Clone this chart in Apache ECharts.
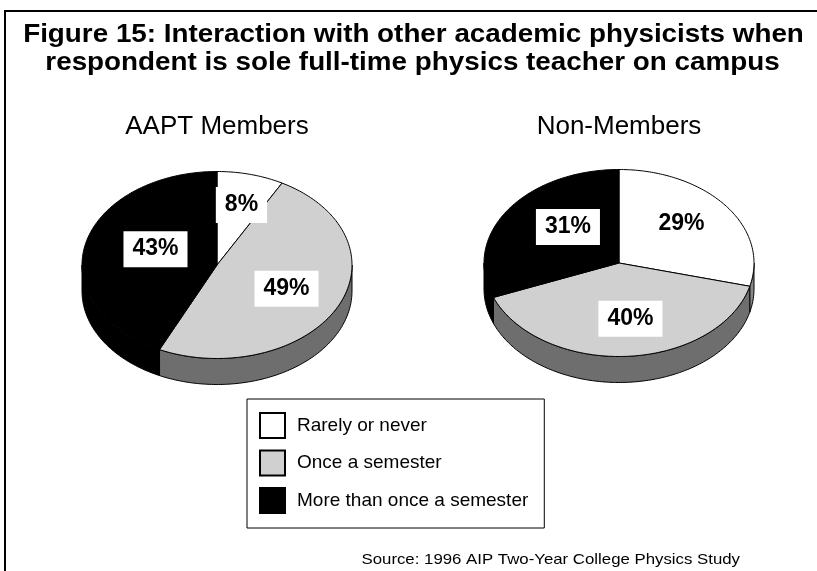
<!DOCTYPE html>
<html>
<head>
<meta charset="utf-8">
<title>Figure 15</title>
<script src="https://cdn.jsdelivr.net/npm/echarts@6/dist/echarts.min.js"></script>
<style>
    html, body { margin: 0; padding: 0; background: #fff; }
    #chart { width: 817px; height: 571px; }
</style>
</head>
<body>
<div id="chart"></div>
<script>
// categories and values
var categories = ['Rarely or never', 'Once a semester', 'More than once a semester'];
var groups = ['AAPT Members', 'Non-Members'];
var aaptValues = [8, 49, 43];
var nonMemberValues = [29, 40, 31];

// styles
var faceColors = ['#ffffff', '#d0d0d0', '#000000'];
var sideColors = ['#878787', '#6e6e6e', '#000000'];
var FONT = 'Liberation Sans, Arial, sans-serif';

// pie layout (px)
var pieCenters = [[217, 265], [619, 263]];
var rx = 135, ry = 93.5, depth = 26;

function groupValues(pie) {
    return pie === 0 ? aaptValues : nonMemberValues;
}

function pt(c, t, dy) {
    return [c[0] + rx * Math.sin(t), c[1] - ry * Math.cos(t) + dy];
}

function arc(c, from, to, dy) {
    var pts = [];
    var n = Math.max(2, Math.ceil(Math.abs(to - from) / (Math.PI / 180)));
    for (var i = 0; i <= n; i++) {
        pts.push(pt(c, from + (to - from) * i / n, dy));
    }
    return pts;
}

function renderSlice(params, api) {
    var pie = params.dataIndex;
    var cat = params.seriesIndex;
    var vals = groupValues(pie);
    var total = 0, start = 0;
    for (var i = 0; i < vals.length; i++) {
        total += vals[i];
        if (i < cat) start += vals[i];
    }
    var value = api.value(0);
    var a0 = start / total * Math.PI * 2;
    var a1 = (start + value) / total * Math.PI * 2;
    var c = pieCenters[pie];
    var children = [];

    // visible side wall: front half only
    var lo = Math.max(a0, Math.PI / 2);
    var hi = Math.min(a1, Math.PI * 3 / 2);
    if (lo < hi) {
        var side = arc(c, lo, hi, 0).concat(arc(c, hi, lo, depth));
        children.push({
            type: 'polygon',
            shape: {points: side},
            style: {fill: sideColors[cat], stroke: '#000', lineWidth: 1}
        });
    }

    // top face
    children.push({
        type: 'polygon',
        shape: {points: [c].concat(arc(c, a0, a1, 0))},
        style: {fill: api.visual('color'), stroke: '#000', lineWidth: 1}
    });

    // label box at the middle of the slice
    var mid = (a0 + a1) / 2;
    children.push({
        type: 'text',
        z2: 100,
        x: c[0] + 7 + rx * Math.sin(mid) * 0.52,
        y: c[1] - 3 - ry * Math.cos(mid) * 0.63,
        style: {
            text: value + '%',
            font: 'bold 23px ' + FONT,
            fill: '#000',
            align: 'center',
            verticalAlign: 'middle',
            backgroundColor: '#fff',
            padding: [7, 9, 6, 9]
        }
    });

    return {type: 'group', children: children};
}

var chart = echarts.init(document.getElementById('chart'));

var series = [];
for (var k = 0; k < categories.length; k++) {
    series.push({
        type: 'custom',
        name: categories[k],
        coordinateSystem: 'none',
        silent: true,
        itemStyle: {color: faceColors[k], borderColor: '#000', borderWidth: 1},
        renderItem: renderSlice,
        data: [aaptValues[k], nonMemberValues[k]]
    });
}

var option = {
    animation: false,
    backgroundColor: '#fff',
    legend: {
        orient: 'vertical',
        left: 247,
        top: 399,
        padding: [13, 16, 14, 12],
        itemWidth: 25,
        itemHeight: 25,
        itemGap: 10.5,
        icon: 'rect',
        selectedMode: false,
        borderColor: '#000',
        borderWidth: 1,
        backgroundColor: '#fff',
        textStyle: {
            fontFamily: FONT,
            fontSize: 19,
            color: '#000',
            padding: [0, 0, 0, 7]
        },
        data: categories
    },
    graphic: [
        {
            type: 'rect',
            silent: true,
            shape: {x: 5, y: 11, width: 900, height: 700},
            style: {fill: 'none', stroke: '#000', lineWidth: 2}
        },
        {
            type: 'text',
            silent: true,
            x: 413.5,
            y: 35,
            scaleX: 1.07,
            style: {
                text: 'Figure 15: Interaction with other academic physicists when',
                font: 'bold 26px ' + FONT,
                align: 'center',
                verticalAlign: 'middle',
                fill: '#000'
            }
        },
        {
            type: 'text',
            silent: true,
            x: 412.5,
            y: 63,
            scaleX: 1.07,
            style: {
                text: 'respondent is sole full-time physics teacher on campus',
                font: 'bold 26px ' + FONT,
                align: 'center',
                verticalAlign: 'middle',
                fill: '#000'
            }
        },
        {
            type: 'text',
            silent: true,
            x: pieCenters[0][0],
            y: 127,
            style: {text: groups[0], font: '26px ' + FONT, align: 'center', verticalAlign: 'middle', fill: '#000'}
        },
        {
            type: 'text',
            silent: true,
            x: pieCenters[1][0],
            y: 127,
            style: {text: groups[1], font: '26px ' + FONT, align: 'center', verticalAlign: 'middle', fill: '#000'}
        },
        {
            type: 'text',
            silent: true,
            x: 740,
            y: 560,
            scaleX: 1.12,
            style: {
                text: 'Source: 1996 AIP Two-Year College Physics Study',
                font: '15px ' + FONT,
                align: 'right',
                verticalAlign: 'middle',
                fill: '#000'
            }
        }
    ],
    series: series
};

chart.setOption(option);
</script>
</body>
</html>
